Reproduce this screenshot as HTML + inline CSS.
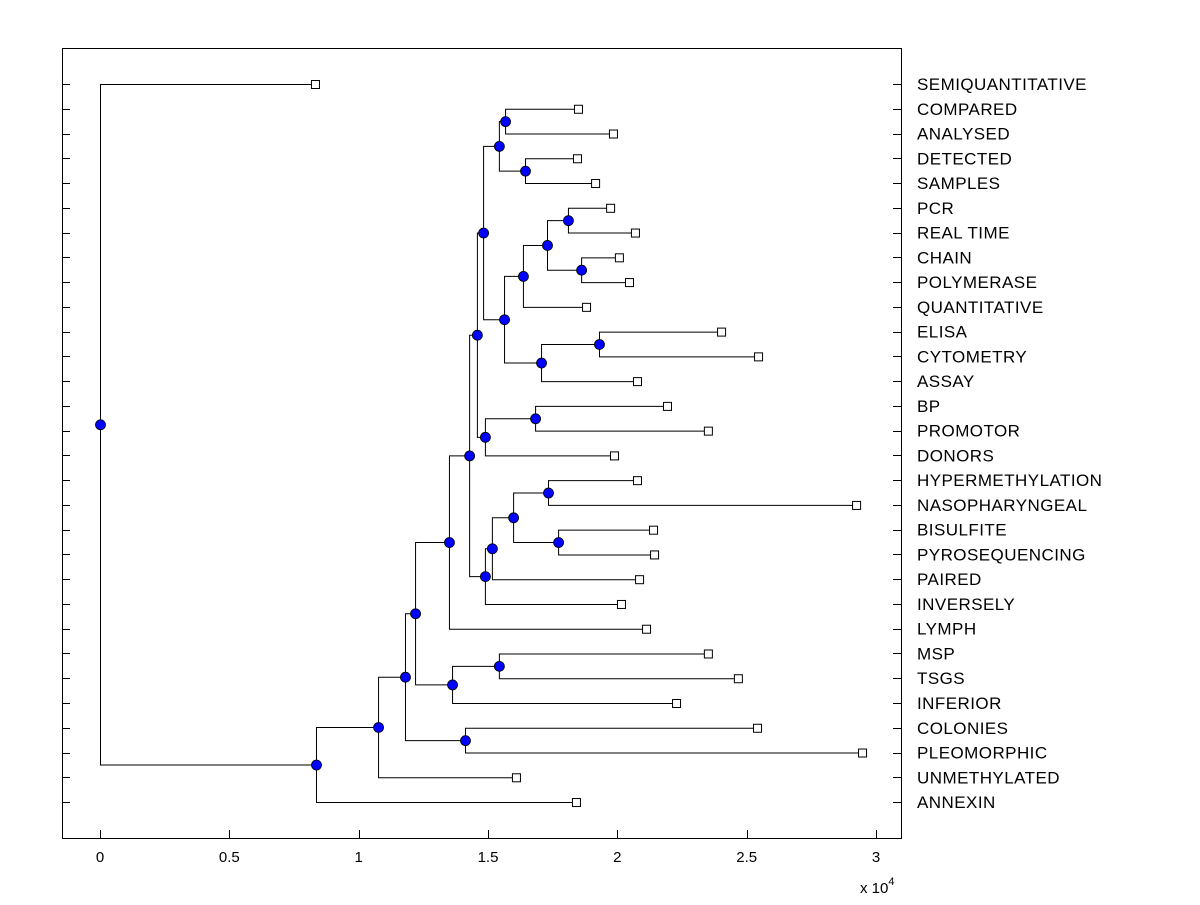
<!DOCTYPE html>
<html><head><meta charset="utf-8"><style>
body{margin:0;background:#fff;}
svg text{font-family:"Liberation Sans",Arial,sans-serif;}
</style></head><body>
<svg id="chart" width="1200" height="900" xmlns="http://www.w3.org/2000/svg">
<rect x="62.5" y="48.5" width="839" height="790" fill="#fff" stroke="#000" stroke-width="1"/>
<g id="g"></g>
</svg>
<script>
const leafLabels=["SEMIQUANTITATIVE","COMPARED","ANALYSED","DETECTED","SAMPLES","PCR","REAL TIME","CHAIN","POLYMERASE","QUANTITATIVE","ELISA","CYTOMETRY","ASSAY","BP","PROMOTOR","DONORS","HYPERMETHYLATION","NASOPHARYNGEAL","BISULFITE","PYROSEQUENCING","PAIRED","INVERSELY","LYMPH","MSP","TSGS","INFERIOR","COLONIES","PLEOMORPHIC","UNMETHYLATED","ANNEXIN"];
const leafValues=[0.831,1.848,1.983,1.844,1.914,1.972,2.068,2.006,2.045,1.879,2.401,2.544,2.076,2.192,2.350,1.987,2.076,2.923,2.138,2.142,2.084,2.014,2.111,2.350,2.466,2.227,2.540,2.946,1.608,1.840];
// merges: [childA, childB]; children: "Lk" leaf k, "Nk" earlier node k
const mergeChildren=[["L1","L2"],["L3","L4"],["N0","N1"],["L5","L6"],["L7","L8"],["N3","N4"],["N5","L9"],["L10","L11"],["N7","L12"],["N6","N8"],["N2","N9"],["L13","L14"],["N11","L15"],["N10","N12"],["L16","L17"],["L18","L19"],["N14","N15"],["N16","L20"],["N17","L21"],["N13","N18"],["N19","L22"],["L23","L24"],["N21","L25"],["N20","N22"],["L26","L27"],["N23","N24"],["N25","L28"],["N26","L29"],["L0","N27"]];
const mergeHeights=[1.566,1.643,1.542,1.809,1.860,1.728,1.635,1.929,1.705,1.562,1.481,1.682,1.488,1.457,1.732,1.771,1.597,1.515,1.488,1.427,1.349,1.542,1.361,1.218,1.411,1.179,1.075,0.835,0];
const xTicks=[0,0.5,1,1.5,2,2.5,3];
const xTickLabels=["0","0.5","1","1.5","2","2.5","3"];

const NS="http://www.w3.org/2000/svg";
const g=document.getElementById('g');
const X=v=>100+v*258.67;
const Y=i=>84+i*24.76;
function el(t,a,p){const e=document.createElementNS(NS,t);for(const k in a)e.setAttribute(k,a[k]);(p||g).appendChild(e);return e;}

for(let i=0;i<leafLabels.length;i++){
  const yy=Math.round(Y(i))+0.5;
  const t1=el('line',{x1:62,y1:yy,x2:70,y2:yy,stroke:'#000'});
  
  
  const t2=el('line',{x1:893,y1:yy,x2:902,y2:yy,stroke:'#000'});
  
  
  const tx=el('text',{x:917,y:Y(i)+6,'font-size':17,'letter-spacing':'0.45',fill:'#000'});
  tx.textContent=leafLabels[i];
  
  
}
xTicks.forEach((v,i)=>{
  const xx=Math.round(X(v))+0.5;
  const t=el('line',{x1:xx,y1:830,x2:xx,y2:838,stroke:'#000'});
  
  
  const tx=el('text',{x:X(v),y:862,'font-size':15,'text-anchor':'middle'});
  tx.textContent=xTickLabels[i];
  
  
});
const ex=el('text',{x:860,y:893,'font-size':15});
ex.innerHTML='x 10<tspan dy="-8" font-size="11">4</tspan>';



const nodes=[];
function pos(c){const k=+c.slice(1);return c[0]==='L'?{x:X(leafValues[k]),y:Y(k)}:nodes[k];}
const lines=el('g',{});
const marks=el('g',{});
mergeChildren.forEach((m,i)=>{
  const a=pos(m[0]),b=pos(m[1]);const x=X(mergeHeights[i]);
  const n={x:x,y:(a.y+b.y)/2};nodes.push(n);
  const p=el('path',{d:`M${a.x},${a.y+.5}H${x+.5}V${b.y+.5}H${b.x}`,fill:'none',stroke:'#000','stroke-width':1},lines);
  
  
});
leafValues.forEach((v,i)=>{
  const r=el('rect',{x:X(v)-3.5,y:Y(i)-3.5,width:8,height:8,fill:'#fff',stroke:'#000'},marks);
  
  
});
nodes.forEach(n=>{
  const c=el('circle',{cx:n.x+.5,cy:n.y+.5,r:5,fill:'#0000ff',stroke:'#000','stroke-width':0.8},marks);
  
  
});
</script>
</body></html>
